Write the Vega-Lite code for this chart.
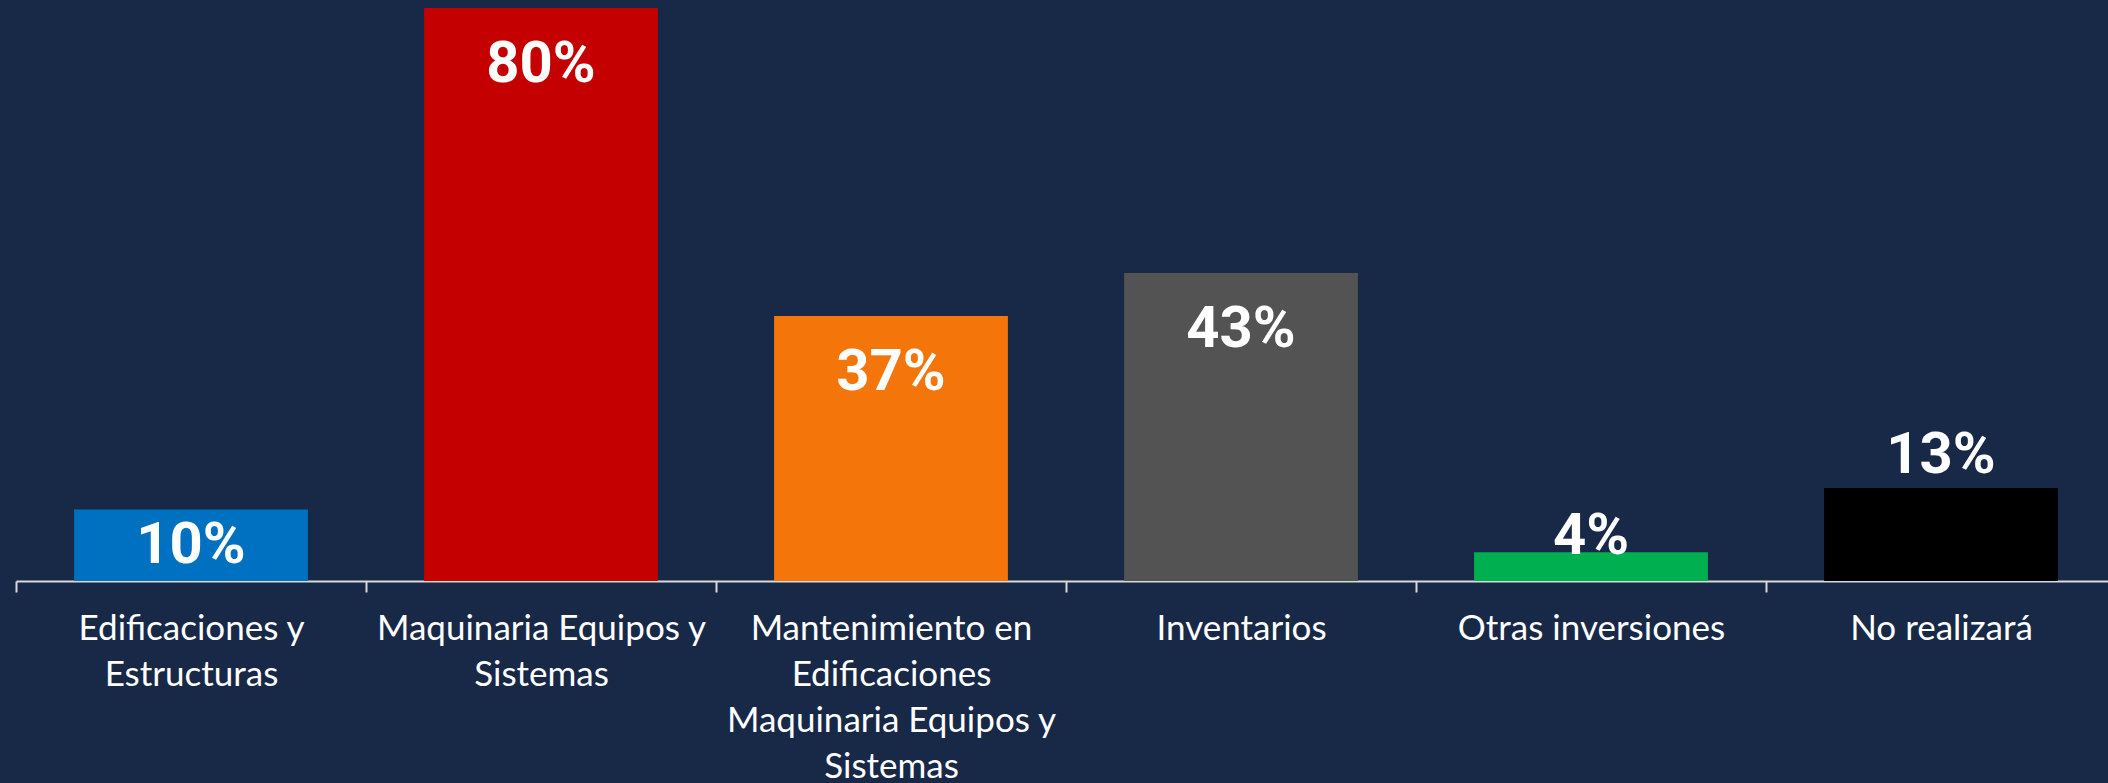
{
  "$schema": "https://vega.github.io/schema/vega-lite/v6.json",
  "autosize": "none",
  "width": 2100,
  "height": 573,
  "padding": {"left": 16, "top": 8, "right": 0, "bottom": 202},
  "background": "#182847",
  "config": {"view": {"stroke": null}},
  "data": {"values": [
    {"cat": "Edificaciones y Estructuras", "v": 0.10, "lbl": "10%"},
    {"cat": "Maquinaria Equipos y Sistemas", "v": 0.80, "lbl": "80%"},
    {"cat": "Mantenimiento en Edificaciones Maquinaria Equipos y Sistemas", "v": 0.37, "lbl": "37%"},
    {"cat": "Inventarios", "v": 0.43, "lbl": "43%"},
    {"cat": "Otras inversiones", "v": 0.04, "lbl": "4%"},
    {"cat": "No realizará", "v": 0.13, "lbl": "13%"}
  ]},
  "encoding": {
    "x": {
      "field": "cat", "type": "nominal", "sort": null, "title": null,
      "scale": {"paddingInner": 0, "paddingOuter": 0},
      "axis": {
        "orient": "bottom",
        "domainColor": "#D9D9D9", "domainWidth": 2,
        "tickColor": "#D9D9D9", "tickWidth": 2, "tickSize": 11, "tickBand": "extent",
        "labelAngle": 0, "labelFont": "Lato", "labelFontSize": 35, "labelColor": "#FFFFFF",
        "labelLineHeight": 46, "labelPadding": 19, "labelLimit": 600,
        "labelExpr": "datum.value == 'Edificaciones y Estructuras' ? ['Edificaciones y', 'Estructuras'] : datum.value == 'Maquinaria Equipos y Sistemas' ? ['Maquinaria Equipos y', 'Sistemas'] : datum.value == 'Mantenimiento en Edificaciones Maquinaria Equipos y Sistemas' ? ['Mantenimiento en', 'Edificaciones', 'Maquinaria Equipos y', 'Sistemas'] : datum.value"
      }
    },
    "y": {
      "field": "v", "type": "quantitative",
      "scale": {"domain": [0, 0.8], "nice": false, "zero": true},
      "axis": null
    }
  },
  "layer": [
    {
      "mark": {"type": "bar", "width": {"band": 0.668}},
      "encoding": {
        "color": {
          "field": "cat", "type": "nominal", "legend": null,
          "scale": {
            "domain": ["Edificaciones y Estructuras", "Maquinaria Equipos y Sistemas", "Mantenimiento en Edificaciones Maquinaria Equipos y Sistemas", "Inventarios", "Otras inversiones", "No realizará"],
            "range": ["#0070C0", "#C50000", "#F4760B", "#535353", "#00B050", "#000000"]
          }
        }
      }
    },
    {
      "transform": [{"filter": "datum.v >= 0.3"}],
      "mark": {"type": "text", "font": "Roboto", "fontWeight": "bold", "fontSize": 58, "color": "#FFFFFF", "baseline": "alphabetic", "dy": 74},
      "encoding": {"text": {"field": "lbl"}}
    },
    {
      "transform": [{"filter": "datum.lbl == '10%'"}],
      "mark": {"type": "text", "font": "Roboto", "fontWeight": "bold", "fontSize": 58, "color": "#FFFFFF", "baseline": "alphabetic", "dy": 54},
      "encoding": {"text": {"field": "lbl"}}
    },
    {
      "transform": [{"filter": "datum.lbl == '4%'"}],
      "mark": {"type": "text", "font": "Roboto", "fontWeight": "bold", "fontSize": 58, "color": "#FFFFFF", "baseline": "alphabetic", "dy": 2},
      "encoding": {"text": {"field": "lbl"}}
    },
    {
      "transform": [{"filter": "datum.lbl == '13%'"}],
      "mark": {"type": "text", "font": "Roboto", "fontWeight": "bold", "fontSize": 58, "color": "#FFFFFF", "baseline": "alphabetic", "dy": -15},
      "encoding": {"text": {"field": "lbl"}}
    }
  ]
}
